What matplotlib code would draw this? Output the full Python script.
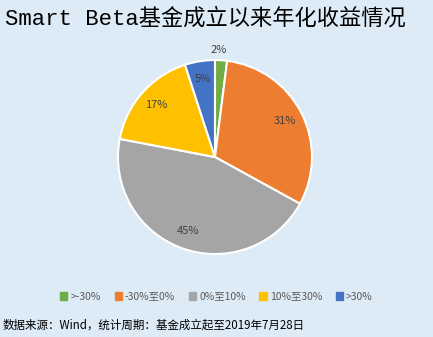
import matplotlib.pyplot as plt

plt.rcParams['font.family'] = ['Noto Sans CJK SC', 'DejaVu Sans']

categories = ['>-30%', '-30%至0%', '0%至10%', '10%至30%', '>30%']
shares = [2, 31, 45, 17, 5]
colors = ['#70AD47', '#ED7D31', '#A5A5A5', '#FFC000', '#4472C4']
bg = '#DDEBF7'

fig = plt.figure(figsize=(4.33, 3.37), dpi=100)
fig.patch.set_facecolor(bg)
ax = fig.add_axes([0.2725, 0.246, 0.448, 0.576])
ax.set_facecolor(bg)

wedges, texts, autotexts = ax.pie(
    shares, colors=colors, startangle=90, counterclock=False,
    autopct='%d%%', pctdistance=0.81,
    wedgeprops=dict(edgecolor='white', linewidth=1.5),
    textprops=dict(fontsize=8, color='#404040'))
# the small slice gets its label outside
autotexts[0].set_position((0.04, 1.1))
ax.set_xlim(-1, 1)
ax.set_ylim(-1, 1)
ax.set_aspect('equal')

fig.text(0.012, 0.945, 'Smart Beta基金成立以来年化收益情况',
         fontsize=16, family=['Liberation Mono', 'Noto Sans CJK SC'],
         va='center', ha='left', color='black')

handles = [plt.Rectangle((0, 0), 1, 1, color=c) for c in colors]
fig.legend(handles, categories, loc='center', bbox_to_anchor=(0.5, 0.12),
           ncol=5, frameon=False, fontsize=7.5, handlelength=0.7,
           handleheight=0.7, handletextpad=0.3, columnspacing=1.3,
           labelcolor='#595959')

fig.text(0.007, 0.035, '数据来源：Wind，统计周期：基金成立起至2019年7月28日',
         fontsize=8.3, ha='left', va='center', color='black')

fig.savefig('out.png', dpi=100, facecolor=bg)
